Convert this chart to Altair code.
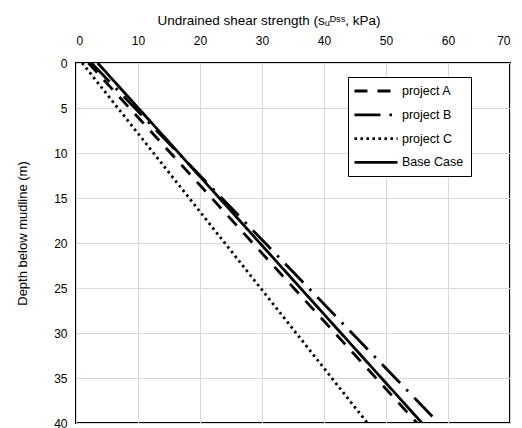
import altair as alt
import pandas as pd

depth = [0, 40]
project_A = [2.0, 55.0]
project_B = [2.5, 58.5]
project_C = [1.0, 47.0]
base_case = [3.5, 55.8]

series_names = ["project A", "project B", "project C", "Base Case"]
series_values = [project_A, project_B, project_C, base_case]
dashes = [[13, 10], [26, 9, 2.5, 9], [2.5, 3.5], [1, 0]]

x_ticks = [0, 10, 20, 30, 40, 50, 60, 70]
y_ticks = [0, 5, 10, 15, 20, 25, 30, 35, 40]

rows = []
for name, vals in zip(series_names, series_values):
    for d, v in zip(depth, vals):
        rows.append({"series": name, "depth": d, "su": v})
df = pd.DataFrame(rows)

FONT = "Liberation Sans"

chart = alt.Chart(df).mark_line(color="black", strokeWidth=2.8, clip=True).encode(
    x=alt.X("su:Q",
            scale=alt.Scale(domain=[0, 70], nice=False, zero=False),
            axis=alt.Axis(orient="top", values=x_ticks, ticks=False, domain=False,
                          labelFont=FONT, labelFontSize=12, labelColor="black",
                          labelPadding=16, gridColor="#d9d9d9",
                          title="Undrained shear strength (sᵤᴰˢˢ, kPa)",
                          titleFont=FONT, titleFontSize=13.5, titleFontWeight="normal",
                          titleColor="black", titleX=81, titleY=-43,
                          titleBaseline="middle", titleAlign="left")),
    y=alt.Y("depth:Q",
            scale=alt.Scale(domain=[0, 40], reverse=True, nice=False, zero=False),
            axis=alt.Axis(values=y_ticks, ticks=False, domain=False,
                          labelFont=FONT, labelFontSize=12, labelColor="black",
                          labelPadding=9, gridColor="#d9d9d9",
                          title="Depth below mudline (m)",
                          titleFont=FONT, titleFontSize=13, titleFontWeight="normal",
                          titleColor="black", titleX=-54, titleY=170,
                          titleAngle=-90, titleAlign="center", titleBaseline="middle")),
    strokeDash=alt.StrokeDash("series:N",
                              scale=alt.Scale(domain=series_names, range=dashes),
                              sort=series_names,
                              legend=alt.Legend(orient="none", legendX=272, legendY=14,
                                                title=None, symbolType="M-4,0H4",
                                                symbolSize=116, symbolStrokeWidth=2.8,
                                                symbolStrokeColor="black",
                                                symbolOffset=14,
                                                labelFont=FONT, labelFontSize=12.5,
                                                labelColor="black", labelOffset=19,
                                                strokeColor="black", padding=7,
                                                fillColor="white", rowPadding=9.8)),
    detail="series:N",
).properties(
    width=434, height=360,
    autosize=alt.AutoSizeParams(type="none"),
    padding={"left": 68, "top": 55, "right": 4, "bottom": 10},
).configure_view(
    stroke="black", strokeWidth=2,
)

chart.save("out.html", embed_options={"renderer": "svg", "actions": False})
